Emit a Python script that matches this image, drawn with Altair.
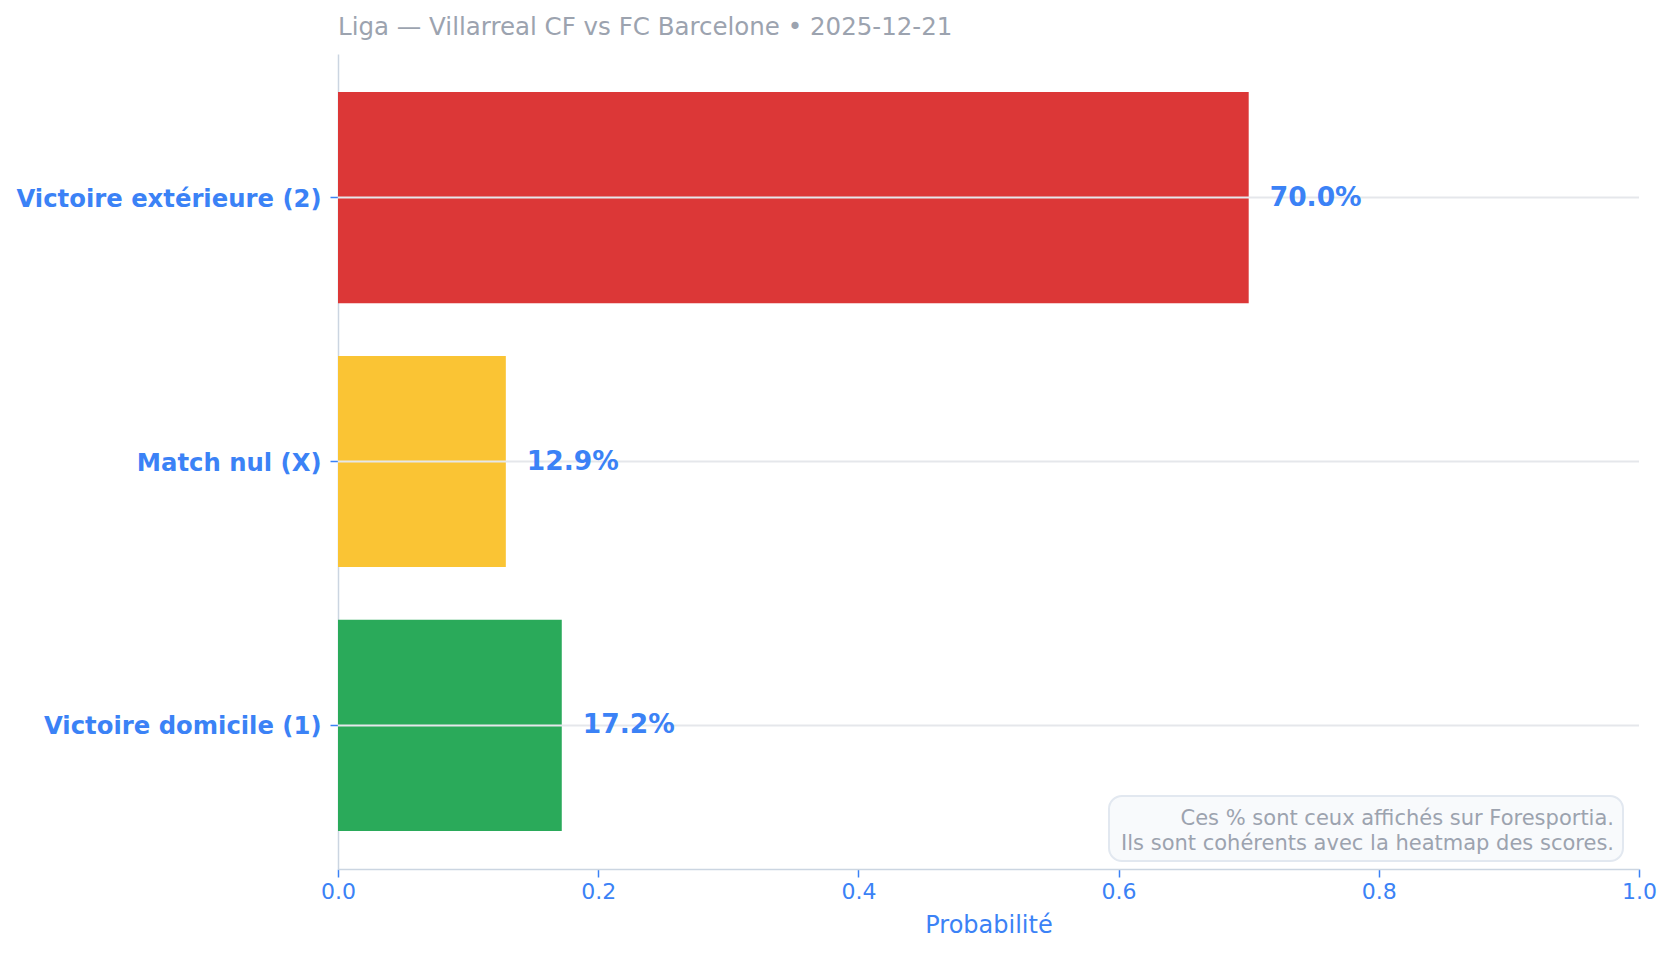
import altair as alt
import pandas as pd

categories = ["Victoire extérieure (2)", "Match nul (X)", "Victoire domicile (1)"]
probs = [0.700, 0.129, 0.172]
labels = ["70.0%", "12.9%", "17.2%"]
colors = ["#dc3737", "#fac434", "#2aaa5a"]
x_ticks = [0.0, 0.2, 0.4, 0.6, 0.8, 1.0]
note_lines = ["Ces % sont ceux affichés sur Foresportia.",
              "Ils sont cohérents avec la heatmap des scores."]
title_text = "Liga — Villarreal CF vs FC Barcelone • 2025-12-21"

W, H = 1301, 815
FONT = "DejaVu Sans"
BLUE = "#3b82f6"
GRAY = "#9ca3af"

df = pd.DataFrame({"cat": categories, "p": probs, "label": labels, "color": colors})

y_enc = alt.Y("cat:N", sort=categories,
              scale=alt.Scale(paddingInner=0.2, paddingOuter=0.144),
              axis=alt.Axis(title=None, labelFont=FONT, labelFontSize=24.3,
                            labelFontWeight="bold", labelColor=BLUE, labelLimit=500,
                            labelPadding=9, labelOffset=2,
                            tickColor=BLUE, tickSize=8, tickWidth=1.5,
                            domainColor="#cbd5e1", domainWidth=1.5, grid=False))
x_scale = alt.Scale(domain=[0, 1], nice=False)
x_axis = alt.Axis(values=x_ticks, format=".1f", title="Probabilité",
                  labelFont=FONT, labelFontSize=22, labelColor=BLUE, labelPadding=4,
                  labelFlush=False,
                  tickColor=BLUE, tickSize=8, tickWidth=1.5,
                  domainColor="#cbd5e1", domainWidth=1.5, grid=False,
                  titleFont=FONT, titleFontSize=24, titleFontWeight="normal",
                  titleColor=BLUE, titlePadding=11)

bars = alt.Chart(df).mark_bar().encode(
    x=alt.X("p:Q", scale=x_scale, axis=x_axis),
    y=y_enc,
    color=alt.Color("color:N", scale=None),
)

grid = alt.Chart(df).mark_rule(color="#e5e7eb", strokeWidth=2).encode(
    y=alt.Y("cat:N", sort=categories),
    x=alt.value(0), x2=alt.value(W),
)

texts = alt.Chart(df).mark_text(align="left", baseline="middle", dx=21,
                                font=FONT, fontSize=26.5, fontWeight="bold",
                                color=BLUE).encode(
    x=alt.X("p:Q", scale=x_scale),
    y=alt.Y("cat:N", sort=categories),
    text="label:N",
)

note_df = pd.DataFrame({"a": [0]})
box = alt.Chart(note_df).mark_rect(fill="#f8fafc", stroke="#e2e8f0", strokeWidth=2,
                                   cornerRadius=13).encode(
    x=alt.value(771), x2=alt.value(1285), y=alt.value(742), y2=alt.value(807))
note1 = alt.Chart(note_df).mark_text(text=note_lines[0], align="right", baseline="middle",
                                     font=FONT, fontSize=21, color=GRAY).encode(
    x=alt.value(1276), y=alt.value(765))
note2 = alt.Chart(note_df).mark_text(text=note_lines[1], align="right", baseline="middle",
                                     font=FONT, fontSize=21, color=GRAY).encode(
    x=alt.value(1276), y=alt.value(790))

chart = alt.layer(bars, grid, texts, box, note1, note2).properties(
    width=W, height=H,
    view=alt.ViewBackground(stroke="transparent", strokeWidth=0),
    title=alt.TitleParams(title_text, anchor="start", frame="group", font=FONT,
                          fontSize=24.5, fontWeight="normal", color=GRAY, offset=14),
    autosize=alt.AutoSizeParams(type="none"),
    padding={"left": 330, "top": 46, "right": 20, "bottom": 76},
).configure_view(stroke="transparent", strokeWidth=0).configure(background="white")

chart.save("out.html", embed_options={"renderer": "svg", "actions": False})
